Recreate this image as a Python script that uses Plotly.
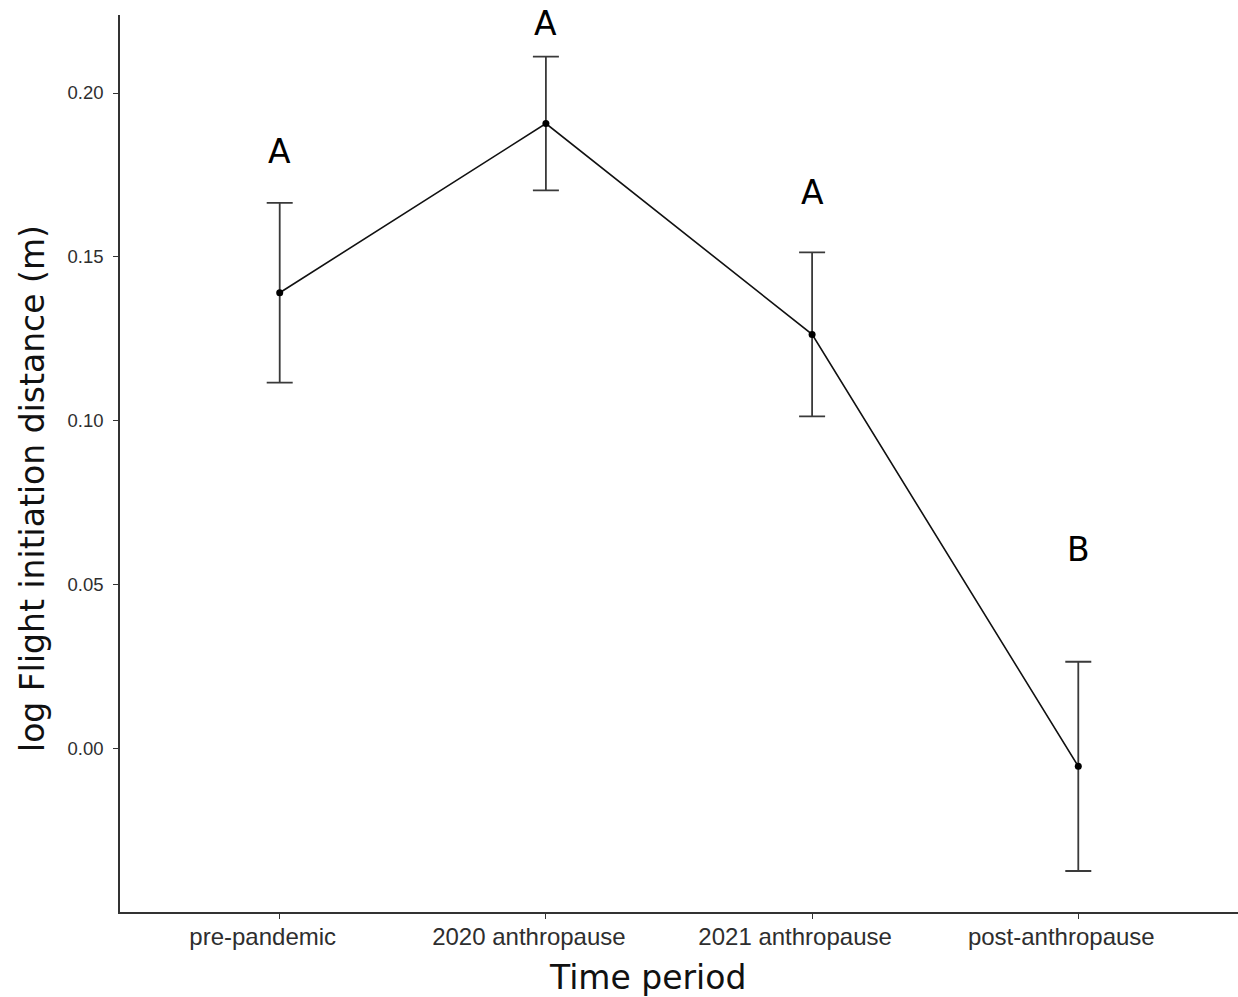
import plotly.graph_objects as go

# Mean log flight initiation distance by period, with error bar half-widths
periods = ["pre-pandemic", "2020 anthropause", "2021 anthropause", "post-anthropause"]
mean_log_fid = [0.1391, 0.1907, 0.1264, -0.0053]
err_half = [0.0274, 0.0204, 0.0250, 0.0319]

# Significance group letters and the heights they sit at
group_letters = ["A", "A", "A", "B"]
letter_y = [0.1823, 0.2213, 0.1698, 0.0607]

y_ticks = [0.00, 0.05, 0.10, 0.15, 0.20]
y_tick_text = ["0.00", "0.05", "0.10", "0.15", "0.20"]

axis_col = "#333333"
tick_font = dict(family="Liberation Sans, Arial, sans-serif", size=18.5, color="#2e2e2e")
title_font = dict(family="DejaVu Sans, Verdana, sans-serif", size=33, color="#111111")

fig = go.Figure()

fig.add_trace(go.Scatter(
    x=list(range(len(periods))),
    y=mean_log_fid,
    mode="lines+markers",
    line=dict(color="#111111", width=1.6),
    marker=dict(color="#000000", size=7),
    error_y=dict(type="data", array=err_half, visible=True,
                 color="#3a3a3a", thickness=1.8, width=13),
    showlegend=False,
    hoverinfo="skip",
))

for i, (lab, ly) in enumerate(zip(group_letters, letter_y)):
    fig.add_annotation(x=i, y=ly, xref="x", yref="y", text=lab,
                       showarrow=False, xanchor="center", yanchor="middle",
                       font=dict(family="DejaVu Sans, Verdana, sans-serif",
                                 size=33, color="#000000"))

fig.add_annotation(x=(647 - 120) / 1118, y=-0.0725, xref="paper", yref="paper",
                   text="Time period", showarrow=False, xanchor="center",
                   yanchor="middle", font=title_font)
fig.add_annotation(x=-0.0778, y=0.4716, xref="paper", yref="paper",
                   text="log Flight initiation distance (m)", showarrow=False,
                   textangle=-90, xanchor="center", yanchor="middle",
                   font=title_font)

fig.update_xaxes(
    range=[-0.6, 3.6],
    tickmode="array",
    tickvals=list(range(len(periods))),
    ticktext=periods,
    showline=True, linecolor=axis_col, linewidth=1.5,
    ticks="outside", ticklen=5, tickwidth=1.3, tickcolor=axis_col,
    showgrid=False, zeroline=False,
    ticklabelshift=-17,
    ticklabelstandoff=-3,
    tickfont=dict(family="Liberation Sans, Arial, sans-serif", size=24, color="#2e2e2e"),
)
fig.update_yaxes(
    range=[-0.0497, 0.22378],
    tickmode="array",
    tickvals=y_ticks,
    ticktext=y_tick_text,
    showline=True, linecolor=axis_col, linewidth=1.5,
    ticks="outside", ticklen=5, tickwidth=1.3, tickcolor=axis_col,
    showgrid=False, zeroline=False,
    ticklabelstandoff=6,
    tickfont=tick_font,
)

fig.update_layout(
    width=1238, height=997,
    margin=dict(l=120, r=0, t=15, b=85),
    paper_bgcolor="white", plot_bgcolor="white",
)

fig.write_html("out.html")
